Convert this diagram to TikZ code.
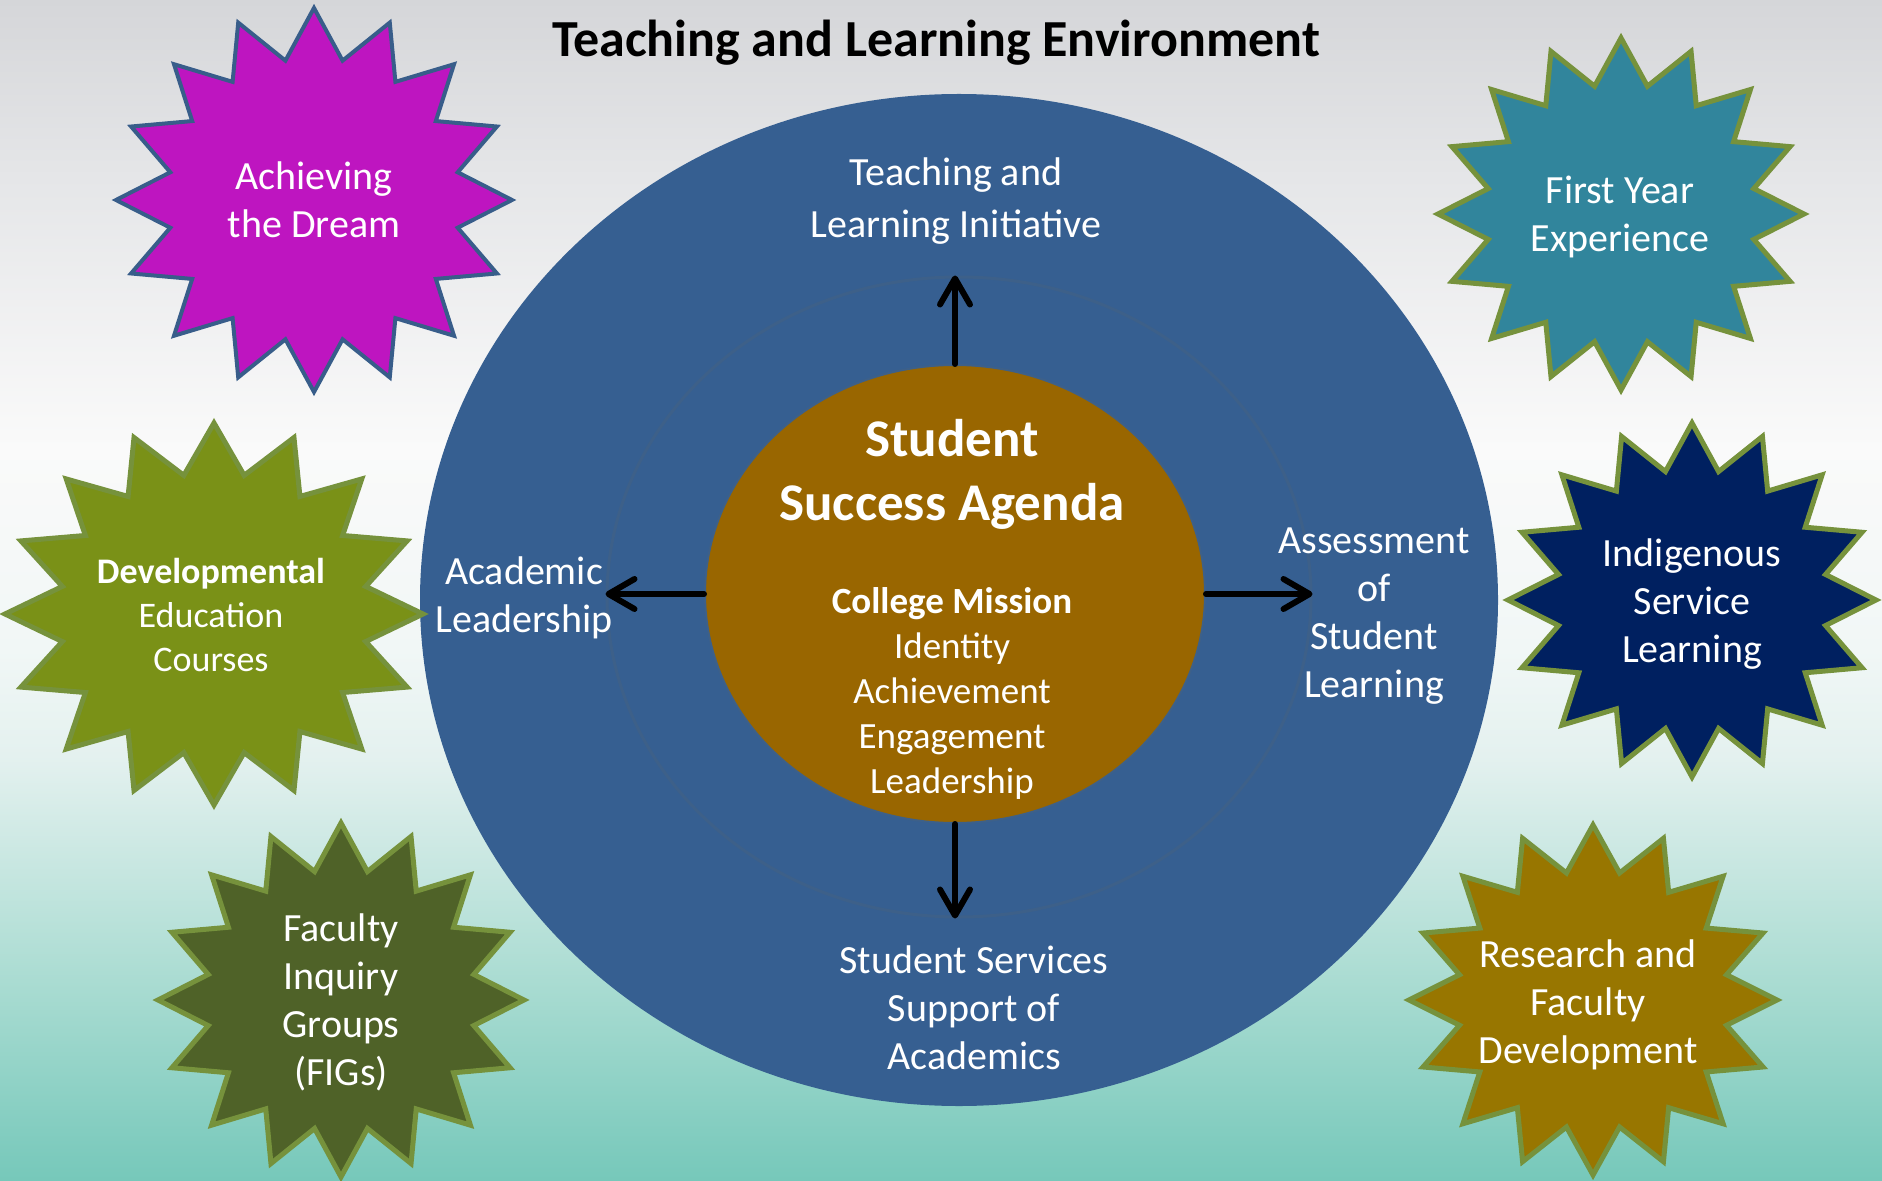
\documentclass[tikz,border=0pt]{standalone}
\usepackage{fontspec}
\setmainfont{Carlito}
\usetikzlibrary{
    arrows.meta,
    shapes.geometric
}
\definecolor{envblue}{HTML}{365F91}
\definecolor{ringblue}{HTML}{3D6089}
\definecolor{agendabrown}{HTML}{996600}
\definecolor{dreampink}{RGB}{190,21,192}
\definecolor{dreamline}{HTML}{385D8A}
\definecolor{oliveline}{HTML}{76923C}
\definecolor{develgreen}{RGB}{122,145,23}
\definecolor{figsgreen}{HTML}{4F6228}
\definecolor{researchgold}{RGB}{152,118,0}
\definecolor{yearteal}{HTML}{31859C}
\definecolor{indigblue}{HTML}{002060}
\definecolor{bggray}{RGB}{213,214,217}
\definecolor{bglight}{RGB}{229,230,232}
\definecolor{bgwhite}{RGB}{250,250,250}
\definecolor{bgfoam}{RGB}{241,247,246}
\definecolor{bgmint}{RGB}{228,241,239}
\definecolor{bgsea}{RGB}{170,220,210}
\definecolor{bgteal}{RGB}{118,200,186}
\pgfdeclareverticalshading{backfade}{100bp}{%
color(0bp)=(bgteal); color(25bp)=(bgteal); color(33.5bp)=(bgsea); color(43bp)=(bgmint); %
color(47.5bp)=(bgfoam); color(56bp)=(bgwhite); color(67.5bp)=(bglight); %
color(75bp)=(bggray); color(100bp)=(bggray)}
\tikzset {
    burst/.pic = {
        \draw [pic actions] (0:1)
            \foreach \k in {1, ..., 31} { -- ({11.25 * \k}:{1 - 0.26 * isodd(\k)}) }
            -- cycle;
    },
    blue burst/.style = {draw = dreamline, line width = 2pt},
    green burst/.style = {draw = oliveline, line width = 2.5pt},
    oval/.style = {ellipse, inner sep = 0pt},
    ring text/.style = {
        text = white,
        align = center,
        font = \fontsize{20pt}{24pt}\selectfont
    },
    star text/.style = {
        text = white,
        align = center,
        font = \fontsize{20pt}{24pt}\selectfont
    },
    spoke/.style = {
        line width = 3pt,
        line cap = round,
        -{Straight Barb[round, length = 13pt, width = 15pt]}
    }
}
\begin{document}
\begin{tikzpicture}[x = 0.5pt, y = -0.5pt]
    \useasboundingbox (0, 0) rectangle (1882, 1181);
    \clip (0, 0) rectangle (1882, 1181);
    \fill [shading = backfade] (0, 0) rectangle (1882, 1181);

    \node (title) [anchor = base, font = \fontsize{26pt}{30pt}\selectfont\bfseries]
        at (936, 57) {Teaching and Learning Environment};

    % circles
    \node (env) [oval, fill = envblue, minimum width = 539pt, minimum height = 506pt]
        at (959, 600) {};
    \node (ring) [oval, draw = ringblue, line width = 1.5pt,
        minimum width = 352pt, minimum height = 320pt] at (959, 597) {};
    \node (agenda) [oval, fill = agendabrown, draw = ringblue, line width = 1pt,
        minimum width = 250pt, minimum height = 229pt] at (955, 594) {};

    \node (headline) [ring text, font = \fontsize{26.5pt}{32pt}\selectfont\bfseries]
        at (952, 474) {Student\\Success Agenda};
    \node (mission) [ring text, font = \fontsize{18.5pt}{22.5pt}\selectfont]
        at (952, 693) {\textbf{College Mission}\\Identity\\Achievement\\Engagement\\Leadership};

    \draw [spoke] (agenda.north) -- (agenda.north |- ring.north);
    \draw [spoke] (agenda.south) -- (agenda.south |- ring.south);
    \draw [spoke] (agenda.west) -- (agenda.west -| ring.west);
    \draw [spoke] (agenda.east) -- (agenda.east -| ring.east);

    \node (teach) [ring text, font = \fontsize{20pt}{25.8pt}\selectfont]
        at (956, 201) {Teaching and\\Learning Initiative};
    \node (lead) [ring text] at (524, 598) {Academic\\Leadership};
    \node (assess) [ring text] at (1374, 616) {Assessment\\of\\Student\\Learning};
    \node (services) [ring text] at (974, 1008) {Student Services\\Support of\\Academics};

    % bursts
    \pic [fill = dreampink, blue burst, xscale = 198, yscale = 192] at (314, 200) {burst};
    \pic [fill = yearteal, green burst, xscale = 183, yscale = 176] at (1621, 214) {burst};
    \pic [fill = develgreen, green burst, xscale = 209, yscale = 191] at (214, 614) {burst};
    \pic [fill = indigblue, green burst, xscale = 184, yscale = 177] at (1692, 600) {burst};
    \pic [fill = figsgreen, green burst, xscale = 183, yscale = 177] at (341, 1000) {burst};
    \pic [fill = researchgold, green burst, xscale = 184, yscale = 175] at (1593, 1000) {burst};

    \node (dream) [star text] at (314, 200) {Achieving\\the Dream};
    \node (year) [star text] at (1620, 217) {First Year\\Experience};
    \node (devel) [star text, font = \fontsize{18pt}{22pt}\selectfont]
        at (211, 615) {\textbf{Developmental}\\Education\\Courses};
    \node (indig) [star text] at (1692, 604) {Indigenous\\Service\\Learning};
    \node (figs) [star text] at (341, 1002) {Faculty\\Inquiry\\Groups\\(FIGs)};
    \node (research) [star text] at (1588, 1005) {Research and\\Faculty\\Development};
\end{tikzpicture}
\end{document}
